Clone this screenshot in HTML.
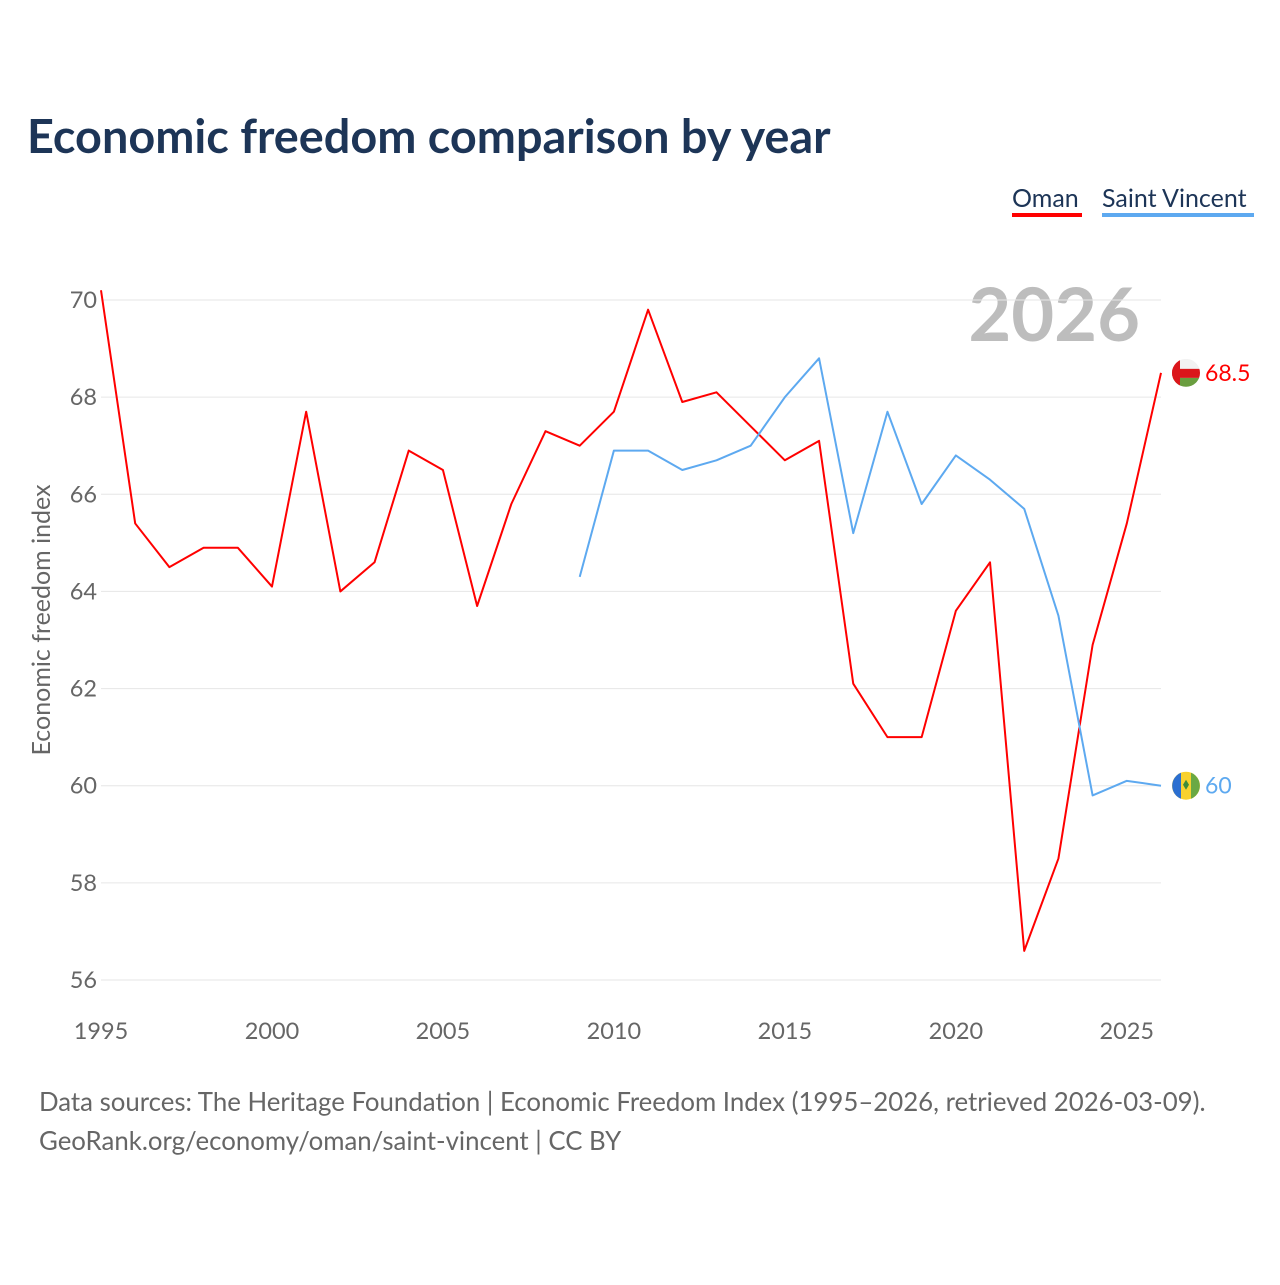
<!DOCTYPE html>
<html><head><meta charset="utf-8">
<style>
body{margin:0;background:#fff;font-family:"Liberation Sans",sans-serif}
svg text{font-family:"Lato","Liberation Sans",sans-serif}
</style></head>
<body>
<svg id="chart" width="1280" height="1280" viewBox="0 0 1280 1280" xmlns="http://www.w3.org/2000/svg">
<rect width="1280" height="1280" fill="#fff"/>
<text x="27" y="153" font-size="46.8" font-weight="bold" fill="#1d3557">Economic freedom comparison by year</text>
<g>
<text x="1012" y="207" font-size="25" fill="#1d3557">Oman</text>
<rect x="1012" y="213" width="70" height="4" fill="#ff0000"/>
</g>
<g>
<text x="1102" y="207" font-size="25" fill="#1d3557">Saint Vincent</text>
<rect x="1102" y="213" width="152" height="4" fill="#5da9f0"/>
</g>
<text x="1140" y="341" font-size="74" font-weight="bold" fill="#bdbdbd" text-anchor="end">2026</text>
<text transform="translate(50,620) rotate(-90)" font-size="25" fill="#666" text-anchor="middle">Economic freedom index</text>
<g id="grid"></g><g id="ticks"></g><g id="series"></g>
<text x="39" y="1111" font-size="25.8" fill="#666">Data sources: The Heritage Foundation | Economic Freedom Index (1995–2026, retrieved 2026-03-09).</text>
<text x="39" y="1150" font-size="25.8" fill="#666">GeoRank.org/economy/oman/saint-vincent | CC BY</text>
</svg>
<script>
const years=[1995,1996,1997,1998,1999,2000,2001,2002,2003,2004,2005,2006,2007,2008,2009,2010,2011,2012,2013,2014,2015,2016,2017,2018,2019,2020,2021,2022,2023,2024,2025,2026];
const omanValues=[70.2,65.4,64.5,64.9,64.9,64.1,67.7,64.0,64.6,66.9,66.5,63.7,65.8,67.3,67.0,67.7,69.8,67.9,68.1,67.4,66.7,67.1,62.1,61.0,61.0,63.6,64.6,56.6,58.5,62.9,65.4,68.5];
const svYears=[2009,2010,2011,2012,2013,2014,2015,2016,2017,2018,2019,2020,2021,2022,2023,2024,2025,2026];
const svValues=[64.3,66.9,66.9,66.5,66.7,67.0,68.0,68.8,65.2,67.7,65.8,66.8,66.3,65.7,63.5,59.8,60.1,60.0];
const yTicks=[56,58,60,62,64,66,68,70];
const xTicks=[1995,2000,2005,2010,2015,2020,2025];
const NS="http://www.w3.org/2000/svg";
const x=v=>101+(v-1995)*(1161-101)/31;
const y=v=>980-(v-56)*(680/14);
function mk(t,a,p){const e=document.createElementNS(NS,t);for(const k in a)e.setAttribute(k,a[k]);p.appendChild(e);return e;}
const grid=document.getElementById('grid'),ticks=document.getElementById('ticks'),series=document.getElementById('series');
yTicks.forEach(v=>{
 const l=mk('line',{x1:101,x2:1161,y1:y(v),y2:y(v),stroke:'#e6e6e6','stroke-width':1},grid);
 
 
 const t=mk('text',{x:97,y:y(v)+8,'font-size':23.5,fill:'#666','text-anchor':'end'},ticks);
 t.textContent=v;
 
 
});
xTicks.forEach(v=>{
 const t=mk('text',{x:x(v),y:1039,'font-size':23.5,fill:'#666','text-anchor':'middle'},ticks);
 t.textContent=v;
 
 
});
function line(xs,vs,col,name){
 const p=mk('polyline',{points:xs.map((yr,i)=>x(yr)+','+y(vs[i])).join(' '),fill:'none',stroke:col,'stroke-width':2,'stroke-linejoin':'round'},series);
 
 
}
line(years,omanValues,'#ff0000','oman-line');
line(svYears,svValues,'#5da9f0','saint-vincent-line');
const oy=y(omanValues[omanValues.length-1]), sy=y(svValues[svValues.length-1]);
const g1=mk('g',{},series);


mk('defs',{},g1).innerHTML='<clipPath id="oc"><circle cx="1186" cy="'+oy+'" r="14"/></clipPath>';
const gc=mk('g',{'clip-path':'url(#oc)'},g1);
mk('rect',{x:1172,y:oy-14,width:28,height:28,fill:'#f2f2f2'},gc);
mk('rect',{x:1172,y:oy+5,width:28,height:9,fill:'#6a9e3f'},gc);
mk('rect',{x:1172,y:oy-4,width:28,height:9,fill:'#db161b'},gc);
mk('rect',{x:1172,y:oy-14,width:8,height:28,fill:'#db161b'},gc);
const t1=mk('text',{x:1205,y:oy+8,'font-size':23,fill:'#ff0000'},series);
t1.textContent=omanValues[omanValues.length-1];


const g2=mk('g',{},series);


mk('circle',{cx:1186,cy:sy,r:14,fill:'#f8d12e'},g2);
mk('path',{d:`M1181 ${sy-13} a14 14 0 0 0 0 26z`,fill:'#2b6fd1'},g2);
mk('path',{d:`M1191 ${sy-13} a14 14 0 0 1 0 26z`,fill:'#6aa944'},g2);
mk('path',{d:`M1186 ${sy-6} l3 5 -3 5 -3 -5z`,fill:'#3e8c3a'},g2);
const t2=mk('text',{x:1205,y:sy+8,'font-size':23,fill:'#5da9f0'},series);
t2.textContent=svValues[svValues.length-1];


</script>
</body></html>
